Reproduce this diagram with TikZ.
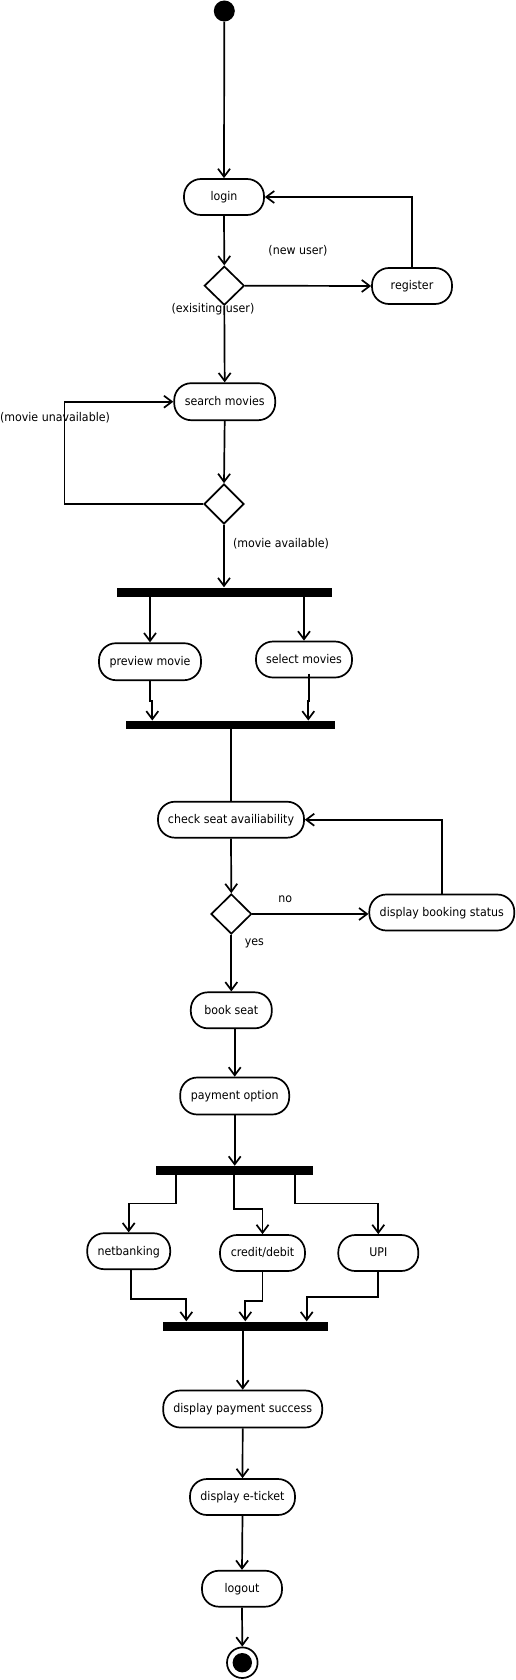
\documentclass[tikz,border=0pt]{standalone}
\usepackage{fontspec}
\setmainfont{DejaVu Sans}[FakeStretch=0.92]
\usetikzlibrary{arrows.meta,shapes.geometric,calc}
\begin{document}
\begin{tikzpicture}[x=1pt,y=-1pt,
  every node/.style={font=\fontsize{12}{14}\selectfont},
  act/.style={draw,line width=1.7pt,rectangle,rounded corners=17pt,minimum height=36pt,inner sep=0pt,text height=0.76em,text depth=0pt,fill=white},
  dec/.style={draw,line width=1.7pt,diamond,minimum width=40pt,minimum height=40pt,inner sep=0pt,fill=white},
  bar/.style={fill=black,rectangle,inner sep=0pt,minimum height=9pt},
  lbl/.style={inner sep=0pt,text height=0.76em,text depth=0.2em},
  flow/.style={draw,line width=1.7pt,-{Straight Barb[length=8pt,width=12pt]}},
  plain/.style={draw,line width=1.7pt}]
\useasboundingbox[fill=white] (0,0) rectangle (515,1680);

% nodes
\node[fill=black,circle,minimum size=21pt,inner sep=0pt] (start) at (224.3,11) {};
\node[act,minimum width=80pt] (login) at (224,197) {login};
\node[dec,minimum height=39pt] (d1) at (224.3,285.7) {};
\node[act,minimum width=80pt] (register) at (412,286) {register};
\node[act,minimum width=101pt,minimum height=37pt] (search) at (224.7,401.7) {search movies};
\node[dec] (d2) at (224,504) {};
\node[bar,minimum width=215pt] (fork1) at (224.5,592) {};
\node[act,minimum width=102pt,minimum height=37pt] (preview) at (150,661.7) {preview movie};
\node[act,minimum width=96pt] (select) at (304,659.5) {select movies};
\node[bar,minimum width=209pt,minimum height=8.5pt] (join1) at (230.3,725) {};
\node[act,minimum width=146pt] (check) at (231,819.7) {check seat availiability};
\node[dec,minimum width=40.6pt] (d3) at (231.3,914) {};
\node[act,minimum width=145pt] (dbs) at (441.8,912.5) {display booking status};
\node[act,minimum width=81pt] (book) at (231.3,1010.3) {book seat};
\node[act,minimum width=109pt,minimum height=37pt] (pay) at (234.7,1096) {payment option};
\node[bar,minimum width=157pt,minimum height=8.7pt] (fork2) at (234.5,1170.3) {};
\node[act,minimum width=83pt] (net) at (128.7,1251.2) {netbanking};
\node[act,minimum width=85pt] (credit) at (262.5,1253) {credit/debit};
\node[act,minimum width=80pt] (upi) at (378.3,1253) {UPI};
\node[bar,minimum width=165pt] (join2) at (245.5,1326) {};
\node[act,minimum width=159pt,minimum height=37pt] (dps) at (242.7,1409) {display payment success};
\node[act,minimum width=105pt] (eticket) at (242.5,1497) {display e-ticket};
\node[act,minimum width=80pt] (logout) at (242,1588.7) {logout};
\node[draw,line width=1.7pt,circle,minimum size=30.6pt,inner sep=0pt] (end) at (242.3,1662.7) {};
\fill (end.center) circle (9.7);

% labels
\node[lbl] (lnew) at (298,252) {(new user)};
\node[lbl] (lexist) at (213,310) {(exisiting user)};
\node[lbl] (lunav) at (55,418.3) {(movie unavailable)};
\node[lbl] (lav) at (281,544.3) {(movie available)};
\node[lbl] (lno) at (285.3,899.3) {no};
\node[lbl] (lyes) at (254.3,942.3) {yes};

% connectors
\draw[flow] (start) -- (login.north);
\draw[flow] (login.south) -- (d1.north);
\draw[flow] (d1.east) -- (register.west);
\draw[flow] (register.north) |- (login.east);
\draw[flow] (d1.south) -- (search.north);
\draw[flow] (search.south) -- (d2.north);
\draw[flow] (d2.west) -- ++(-138.7,0) |- (search.west);
\draw[flow] (d2.south) -- (d2.south |- fork1.north);
\draw[flow] (preview.north |- fork1.south) -- (preview.north);
\draw[flow] (select.north |- fork1.south) -- (select.north);
\draw[flow] (preview.south) -- ++(0,20) -| ([xshift=2.3pt]preview.south |- join1.north);
\draw[flow] ([xshift=5.3pt,yshift=4.8pt]select.south) -- ++(0,27.3) -| ([xshift=4.3pt]select.south |- join1.north);
\draw[plain] (join1.south -| check.north) -- (check.north);
\draw[flow] (check.south) -- (d3.north);
\draw[flow] (d3.east) -- (d3.east -| dbs.west);
\draw[flow] (dbs.north) |- (check.east);
\draw[flow] (d3.south) -- (book.north);
\draw[flow] (pay.north |- book.south) -- (pay.north);
\draw[flow] (pay.south) -- (pay.south |- fork2.north);
\draw[flow] ([xshift=-58.5pt]fork2.south) -- ++(0,28.6) -| (net.north);
\draw[flow] ([xshift=-0.2pt]fork2.south) -- ++(0,34) -| (credit.north);
\draw[flow] ([xshift=60.8pt]fork2.south) -- ++(0,28.6) -| (upi.north);
\draw[flow] ([xshift=2.3pt]net.south) -- ++(0,29.1) -| ([xshift=-59.2pt]join2.north);
\draw[flow] (credit.south) -- ++(0,29) -| ([xshift=-0.2pt]join2.north);
\draw[flow] (upi.south) -- ++(0,25) -| ([xshift=61.2pt]join2.north);
\draw[flow] (dps.north |- join2.south) -- (dps.north);
\draw[flow] (dps.south) -- (eticket.north);
\draw[flow] (eticket.south) -- (logout.north);
\draw[flow] (logout.south) -- (end.north);
\end{tikzpicture}
\end{document}
